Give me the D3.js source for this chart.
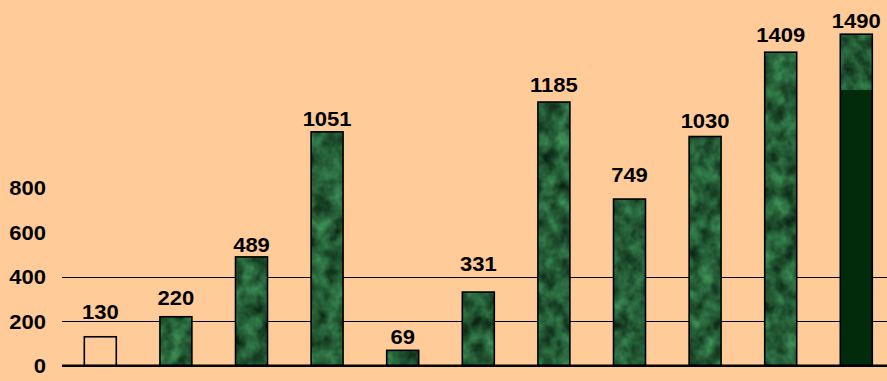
<!DOCTYPE html>
<html>
<head>
<meta charset="utf-8">
<script src="https://cdn.jsdelivr.net/npm/d3@7/dist/d3.min.js"></script>
<style>
  html, body { margin: 0; padding: 0; background: #FFCC99; }
  svg { display: block; }
  text { font-family: "Liberation Sans", Arial, sans-serif; font-weight: bold; fill: #000; }
</style>
</head>
<body>
<svg id="chart" width="887" height="381"></svg>
<script>
// Values per period
const categories = ["P1", "P2", "P3", "P4", "P5", "P6", "P7", "P8", "P9", "P10", "P11"];
const values = [130, 220, 489, 1051, 69, 331, 1185, 749, 1030, 1409, 1490];
const yTicks = [0, 200, 400, 600, 800];
const gridValues = [200, 400];
// Vertical gap (px) between each value label and the top of its bar
const labelGap = [18, 12, 5, 6, 6, 21, 10, 17, 9, 10, 6];

const W = 887, H = 381;
const FONT_SIZE = 20, WIDEN = 1.1;
const svg = d3.select("#chart");

const step = 75.6;
const x0 = 62.5;
const x = d3.scaleBand()
  .domain(categories)
  .range([x0, x0 + step * categories.length])
  .paddingInner(0.577)
  .paddingOuter(0.2885);

const y = d3.scaleLinear().domain([0, 1600]).range([365.7, 365.7 - 0.2225 * 1600]);

// Marble texture for the bars
const defs = svg.append("defs");
const fx = defs.append("filter").attr("id", "marbleFx")
  .attr("x", 0).attr("y", 0).attr("width", "100%").attr("height", "100%")
  .attr("color-interpolation-filters", "sRGB");
fx.append("feTurbulence").attr("type", "fractalNoise")
  .attr("baseFrequency", "0.07 0.06").attr("numOctaves", 3).attr("seed", 7);
fx.append("feColorMatrix").attr("type", "matrix").attr("values",
  "0.28 0 0 0 0  " +
  "0.6 0 0 0 0.06  " +
  "0.38 0 0 0 0.02  " +
  "0 0 0 0 1");
const pat = defs.append("pattern").attr("id", "marble")
  .attr("patternUnits", "userSpaceOnUse").attr("width", W).attr("height", H);
pat.append("rect").attr("width", W).attr("height", H).attr("fill", "#1d5a33");
pat.append("rect").attr("width", W).attr("height", H).attr("filter", "url(#marbleFx)");

// Grid lines
svg.append("g").selectAll("line").data(gridValues).join("line")
  .attr("x1", 62).attr("x2", W)
  .attr("y1", d => Math.round(y(d)) + 0.5).attr("y2", d => Math.round(y(d)) + 0.5)
  .attr("stroke", "#000").attr("stroke-width", 1);

// Y axis labels
const yAxis = d3.axisLeft(y).tickValues(yTicks).tickSize(0).tickPadding(0);
const gAxis = svg.append("g").attr("transform", "translate(46,0)").call(yAxis);
gAxis.select(".domain").remove();
gAxis.selectAll("text")
  .attr("font-family", "Liberation Sans, Arial, sans-serif")
  .attr("font-weight", "bold").attr("font-size", FONT_SIZE).attr("fill", "#000")
  .attr("dy", "0.36em")
  .attr("transform", `scale(${WIDEN},1)`);

// Bars
const last = values.length - 1;
const bars = svg.append("g");
bars.selectAll("rect.bar").data(values).join("rect")
  .attr("class", "bar")
  .attr("x", (d, i) => x(categories[i]))
  .attr("y", d => y(d))
  .attr("width", x.bandwidth())
  .attr("height", d => y(0) - y(d))
  .attr("fill", (d, i) => i === 0 ? "none" : (i === last ? "#022b0c" : "url(#marble)"))
  .attr("stroke", "#000").attr("stroke-width", 1.6);

// Textured cap on the final bar
bars.append("rect")
  .attr("x", x(categories[last]) + 0.8)
  .attr("y", y(values[last]) + 0.8)
  .attr("width", x.bandwidth() - 1.6)
  .attr("height", 55)
  .attr("fill", "url(#marble)");

// Baseline
svg.append("line")
  .attr("x1", 62).attr("x2", W)
  .attr("y1", y(0)).attr("y2", y(0))
  .attr("stroke", "#000").attr("stroke-width", 2.5);

// Value labels
svg.append("g").selectAll("text").data(values).join("text")
  .attr("transform", (d, i) =>
    `translate(${x(categories[i]) + x.bandwidth() / 2},${y(d) - labelGap[i]}) scale(${WIDEN},1)`)
  .attr("text-anchor", "middle")
  .attr("font-size", FONT_SIZE)
  .text(d => d);
</script>
</body>
</html>
